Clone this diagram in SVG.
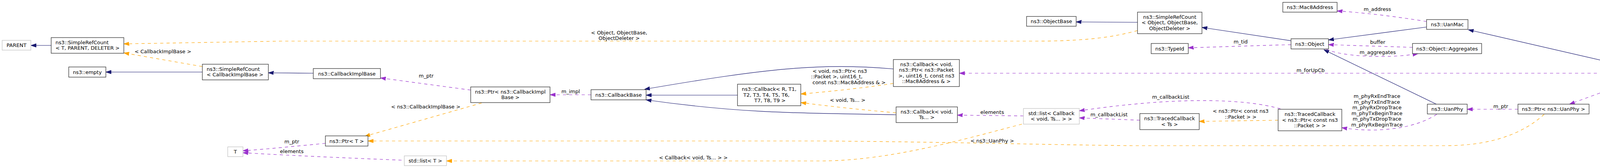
<svg xmlns="http://www.w3.org/2000/svg" width="4317" height="429" viewBox="0 0 4317 429">
<style>
text{font-family:"DejaVu Sans","Liberation Sans",sans-serif;font-size:13px;fill:#000}
.c{text-anchor:middle}
.node rect{fill:#fff;stroke:#222;stroke-width:1.2}
.undoc rect{stroke:#bfbfbf}
.main rect{fill:#bfbfbf}
.inh{fill:none;stroke:#191970;stroke-width:1.2}
.use{fill:none;stroke:#9a32cd;stroke-width:1.2;stroke-dasharray:8,8}
.tpl{fill:none;stroke:#ffa500;stroke-width:1.2;stroke-dasharray:8,8}
</style>
<defs>
<marker id="aB" markerUnits="userSpaceOnUse" markerWidth="14" markerHeight="10" viewBox="0 0 14 10" refX="13.5" refY="5" orient="auto"><path d="M0,0.5 L13.5,5 L0,9.5 z" fill="#191970" stroke="#191970"/></marker>
<marker id="aP" markerUnits="userSpaceOnUse" markerWidth="14" markerHeight="10" viewBox="0 0 14 10" refX="13.5" refY="5" orient="auto"><path d="M0,0.5 L13.5,5 L0,9.5 z" fill="#9a32cd" stroke="#9a32cd"/></marker>
<marker id="aO" markerUnits="userSpaceOnUse" markerWidth="14" markerHeight="10" viewBox="0 0 14 10" refX="13.5" refY="5" orient="auto"><path d="M0,0.5 L13.5,5 L0,9.5 z" fill="#ffa500" stroke="#ffa500"/></marker>
</defs>
<rect x="0" y="0" width="4317" height="429" fill="#fff"/>

<g id="connectors">
<path class="inh" marker-end="url(#aB)" d="M131,116 L79,116"/>
<path class="inh" marker-end="url(#aB)" d="M518,184 L271,184"/>
<path class="inh" marker-end="url(#aB)" d="M802,187 L687,186"/>
<path class="inh" marker-end="url(#aB)" d="M2287,176 C2100,160 1960,175 1650,228"/>
<path class="inh" marker-end="url(#aB)" d="M1888,243 L1654,243"/>
<path class="inh" marker-end="url(#aB)" d="M2294,293 C2050,289 1900,290 1654,255"/>
<path class="inh" marker-end="url(#aB)" d="M2912,57 L2755,56"/>
<path class="inh" marker-end="url(#aB)" d="M3305,104 L3077,70"/>
<path class="inh" marker-end="url(#aB)" d="M3652,69 L3401,102"/>
<path class="inh" marker-end="url(#aB)" d="M3677,266 L3389,127"/>
<path class="inh" marker-end="url(#aB)" d="M4182,173 L3759,76"/>
<path class="tpl" marker-end="url(#aO)" d="M2912,78 C2850,95 2780,105 2650,105 L720,105 L317,112"/>
<text class="c" x="1585" y="87.5">&lt; Object, ObjectBase,</text>
<text class="c" x="1585" y="101.5">ObjectDeleter &gt;</text>
<path class="tpl" marker-end="url(#aO)" d="M518,170 L317,135"/>
<text class="c" x="417" y="135.5">&lt; CallbackImplBase &gt;</text>
<path class="tpl" marker-end="url(#aO)" d="M1233,263 L934,348"/>
<text class="c" x="1090" y="276.5">&lt; ns3::CallbackImplBase &gt;</text>
<path class="tpl" marker-end="url(#aO)" d="M3953,292 C3900,340 3820,372 3700,372 L2900,372 C2700,370 2400,362 2100,360 L942,360"/>
<text class="c" x="2540" y="363.5">&lt; ns3::UanPhy &gt;</text>
<path class="tpl" marker-end="url(#aO)" d="M2616,317 C2480,352 2280,411 2100,411 L1143,411"/>
<text class="c" x="1775" y="406.5">&lt; Callback&lt; void, Ts... &gt; &gt;</text>
<path class="tpl" marker-end="url(#aO)" d="M2287,213 C2200,226 2120,234 2050,240"/>
<text x="2080" y="185.5">&lt; void, ns3::Ptr&lt; ns3</text>
<text x="2076" y="200">::Packet &gt;, uint16_t,</text>
<text x="2080" y="215">const ns3::Mac8Address &amp; &gt;</text>
<path class="tpl" marker-end="url(#aO)" d="M2294,288 C2200,280 2130,272 2050,262"/>
<text class="c" x="2170" y="260">&lt; void, Ts... &gt;</text>
<path class="tpl" marker-end="url(#aO)" d="M3272,307 L3070,310"/>
<text class="c" x="3176" y="288">&lt; ns3::Ptr&lt; const ns3</text>
<text class="c" x="3176" y="303">::Packet &gt; &gt;</text>
<path class="use" marker-end="url(#aP)" d="M1205,230 L974,199"/>
<text class="c" x="1091" y="197.5">m_ptr</text>
<path class="use" marker-end="url(#aP)" d="M1513,242 L1408,242"/>
<text class="c" x="1461" y="238">m_impl</text>
<path class="use" marker-end="url(#aP)" d="M833,366 C760,373 680,381 622,385"/>
<text class="c" x="747" y="366">m_ptr</text>
<path class="use" marker-end="url(#aP)" d="M1028,409 C900,404 720,396 622,390"/>
<text class="c" x="747" y="391">elements</text>
<path class="use" marker-end="url(#aP)" d="M2620,296 L2451,294"/>
<text class="c" x="2540" y="291">elements</text>
<path class="use" marker-end="url(#aP)" d="M4168,187 L2456,187"/>
<text class="c" x="3355" y="183.5">m_forUpCb</text>
<path class="use" marker-end="url(#aP)" d="M3278,278 C3180,250 3000,248 2763,283"/>
<text class="c" x="2997" y="251.5">m_callbackList</text>
<path class="use" marker-end="url(#aP)" d="M2918,307 L2763,301"/>
<text class="c" x="2839" y="297">m_callbackList</text>
<path class="use" marker-end="url(#aP)" d="M3305,114 L3042,122"/>
<text class="c" x="3176" y="110.5">m_tid</text>
<path class="use" marker-end="url(#aP)" d="M3616,121 L3401,114"/>
<text class="c" x="3527" y="111.5">buffer</text>
<path class="use" marker-end="url(#aP)" d="M3395,125 C3430,145 3560,150 3630,137"/>
<text class="c" x="3527" y="137.5">m_aggregates</text>
<path class="use" marker-end="url(#aP)" d="M3652,55 C3580,43 3490,32 3423,28"/>
<text class="c" x="3526" y="27.5">m_address</text>
<path class="use" marker-end="url(#aP)" d="M3678,292 C3620,330 3520,340 3435,326"/>
<text class="c" x="3525" y="249.5">m_phyRxEndTrace</text>
<text class="c" x="3525" y="264.5">m_phyTxEndTrace</text>
<text class="c" x="3525" y="279">m_phyRxDropTrace</text>
<text class="c" x="3525" y="293.5">m_phyTxBeginTrace</text>
<text class="c" x="3525" y="308">m_phyTxDropTrace</text>
<text class="c" x="3525" y="323">m_phyRxBeginTrace</text>
<path class="use" marker-end="url(#aP)" d="M4201,199 L4018,266"/>
<text class="c" x="4120" y="217">m_phy</text>
<path class="use" marker-end="url(#aP)" d="M3886,279 L3756,279"/>
<text class="c" x="3842" y="275.5">m_ptr</text>
</g>

<g id="n_parent" class="node undoc"><rect x="5.5" y="103" width="73.5" height="25"/><text class="c" x="42.25" y="120">PARENT</text></g>
<g id="n_src_tpd" class="node"><rect x="131" y="96" width="186" height="40"/><text x="142" y="112.5">ns3::SimpleRefCount</text><text x="142" y="127">&lt; T, PARENT, DELETER &gt;</text></g>
<g id="n_empty" class="node"><rect x="176" y="171" width="95" height="26"/><text class="c" x="223.5" y="188.5">ns3::empty</text></g>
<g id="n_src_cib" class="node"><rect x="518" y="164" width="169" height="40"/><text x="529" y="180.5">ns3::SimpleRefCount</text><text x="529" y="195">&lt; CallbackImplBase &gt;</text></g>
<g id="n_cib" class="node"><rect x="802" y="175" width="172" height="26"/><text class="c" x="888" y="192.5">ns3::CallbackImplBase</text></g>
<g id="n_ptr_cib" class="node"><rect x="1205" y="222" width="203" height="40"/><text class="c" x="1306.5" y="238.5">ns3::Ptr&lt; ns3::CallbackImpl</text><text class="c" x="1306.5" y="253">Base &gt;</text></g>
<g id="n_cbbase" class="node"><rect x="1513" y="229" width="141" height="26"/><text class="c" x="1583.5" y="246.5">ns3::CallbackBase</text></g>
<g id="n_cb_r" class="node"><rect x="1888" y="215" width="162" height="55"/><text x="1899" y="232">ns3::Callback&lt; R, T1,</text><text x="1903" y="246.5">T2, T3, T4, T5, T6,</text><text x="1931" y="261">T7, T8, T9 &gt;</text></g>
<g id="n_cb_pkt" class="node"><rect x="2287" y="152" width="169" height="69"/><text class="c" x="2371.5" y="168.5">ns3::Callback&lt; void,</text><text class="c" x="2371.5" y="183">ns3::Ptr&lt; ns3::Packet</text><text class="c" x="2371.5" y="197.5">&gt;, uint16_t, const ns3</text><text class="c" x="2371.5" y="212">::Mac8Address &amp; &gt;</text></g>
<g id="n_cb_ts" class="node"><rect x="2294" y="273" width="157" height="40"/><text class="c" x="2372.5" y="289.5">ns3::Callback&lt; void,</text><text class="c" x="2372.5" y="304">Ts... &gt;</text></g>
<g id="n_list_cb" class="node undoc"><rect x="2620" y="277" width="143" height="40"/><text class="c" x="2691.5" y="293.5">std::list&lt; Callback</text><text class="c" x="2691.5" y="308">&lt; void, Ts... &gt; &gt;</text></g>
<g id="n_objectbase" class="node"><rect x="2628" y="42" width="127" height="25"/><text class="c" x="2691.5" y="59">ns3::ObjectBase</text></g>
<g id="n_src_obj" class="node"><rect x="2912" y="31" width="165" height="55"/><text class="c" x="2994.5" y="47.5">ns3::SimpleRefCount</text><text class="c" x="2994.5" y="62">&lt; Object, ObjectBase,</text><text class="c" x="2994.5" y="76.5">ObjectDeleter &gt;</text></g>
<g id="n_typeid" class="node"><rect x="2947" y="111" width="95" height="26"/><text class="c" x="2994.5" y="128.5">ns3::TypeId</text></g>
<g id="n_object" class="node"><rect x="3305" y="99" width="96" height="26"/><text class="c" x="3353" y="116.5">ns3::Object</text></g>
<g id="n_mac8" class="node"><rect x="3284" y="6" width="139" height="25"/><text class="c" x="3353.5" y="23">ns3::Mac8Address</text></g>
<g id="n_uanmac" class="node"><rect x="3652" y="50" width="106" height="25"/><text class="c" x="3705" y="67">ns3::UanMac</text></g>
<g id="n_aggr" class="node"><rect x="3616" y="111" width="177" height="26"/><text class="c" x="3704.5" y="128.5">ns3::Object::Aggregates</text></g>
<g id="n_aloha" class="node main"><rect x="4168" y="174" width="143" height="25"/><text class="c" x="4239.5" y="191">ns3::UanMacAloha</text></g>
<g id="n_tc_ts" class="node"><rect x="2918" y="290" width="152" height="41"/><text class="c" x="2994" y="307">ns3::TracedCallback</text><text class="c" x="2994" y="321.5">&lt; Ts &gt;</text></g>
<g id="n_tc_pkt" class="node"><rect x="3272" y="279" width="163" height="55"/><text class="c" x="3353.5" y="296">ns3::TracedCallback</text><text class="c" x="3353.5" y="310.5">&lt; ns3::Ptr&lt; const ns3</text><text class="c" x="3353.5" y="325">::Packet &gt; &gt;</text></g>
<g id="n_uanphy" class="node"><rect x="3654" y="266" width="102" height="25"/><text class="c" x="3705" y="283">ns3::UanPhy</text></g>
<g id="n_ptr_uanphy" class="node"><rect x="3886" y="266" width="182" height="25"/><text class="c" x="3977" y="283">ns3::Ptr&lt; ns3::UanPhy &gt;</text></g>
<g id="n_ptr_t" class="node"><rect x="833" y="347" width="109" height="26"/><text class="c" x="887.5" y="364.5">ns3::Ptr&lt; T &gt;</text></g>
<g id="n_t" class="node undoc"><rect x="583" y="375" width="39" height="25"/><text class="c" x="602.5" y="392">T</text></g>
<g id="n_list_t" class="node undoc"><rect x="1035" y="398" width="108" height="25"/><text class="c" x="1089" y="415">std::list&lt; T &gt;</text></g>
</svg>
